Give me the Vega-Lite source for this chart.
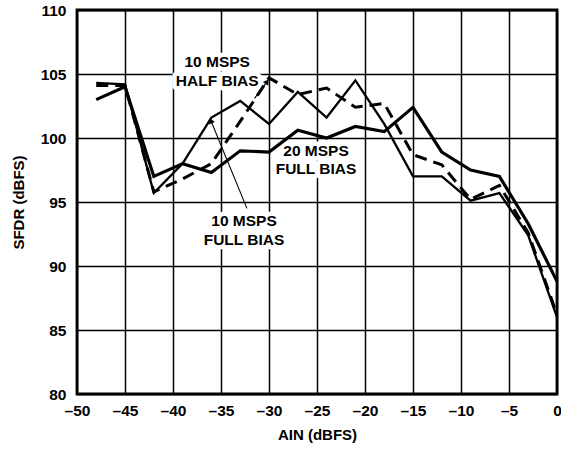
{
  "$schema": "https://vega.github.io/schema/vega-lite/v6.json",
  "width": 480,
  "height": 384,
  "autosize": {"type": "none"},
  "padding": {"left": 77, "top": 10, "right": 4, "bottom": 61},
  "background": "white",
  "datasets": {
    "series": [
      {"series": "10F", "x": -48, "y": 104.3}, {"series": "10F", "x": -45, "y": 104.2}, {"series": "10F", "x": -42, "y": 95.7},
      {"series": "10F", "x": -39, "y": 98.0}, {"series": "10F", "x": -36, "y": 101.6}, {"series": "10F", "x": -33, "y": 102.9},
      {"series": "10F", "x": -30, "y": 101.1}, {"series": "10F", "x": -27, "y": 103.6}, {"series": "10F", "x": -24, "y": 101.6},
      {"series": "10F", "x": -21, "y": 104.5}, {"series": "10F", "x": -18, "y": 101.1}, {"series": "10F", "x": -15, "y": 97.0},
      {"series": "10F", "x": -12, "y": 97.0}, {"series": "10F", "x": -9, "y": 95.1}, {"series": "10F", "x": -6, "y": 95.7},
      {"series": "10F", "x": -3, "y": 92.4}, {"series": "10F", "x": 0, "y": 86.0},
      {"series": "10H", "x": -48, "y": 104.1}, {"series": "10H", "x": -45, "y": 104.1}, {"series": "10H", "x": -42, "y": 95.8},
      {"series": "10H", "x": -39, "y": 96.8}, {"series": "10H", "x": -36, "y": 98.0}, {"series": "10H", "x": -33, "y": 101.3},
      {"series": "10H", "x": -30, "y": 104.7}, {"series": "10H", "x": -27, "y": 103.4}, {"series": "10H", "x": -24, "y": 103.9},
      {"series": "10H", "x": -21, "y": 102.4}, {"series": "10H", "x": -18, "y": 102.7}, {"series": "10H", "x": -15, "y": 98.7},
      {"series": "10H", "x": -12, "y": 97.9}, {"series": "10H", "x": -9, "y": 95.2}, {"series": "10H", "x": -6, "y": 96.3},
      {"series": "10H", "x": -3, "y": 92.6}, {"series": "10H", "x": 0, "y": 86.2},
      {"series": "20F", "x": -48, "y": 103.0}, {"series": "20F", "x": -45, "y": 104.0}, {"series": "20F", "x": -42, "y": 97.0},
      {"series": "20F", "x": -39, "y": 98.0}, {"series": "20F", "x": -36, "y": 97.3}, {"series": "20F", "x": -33, "y": 99.0},
      {"series": "20F", "x": -30, "y": 98.9}, {"series": "20F", "x": -27, "y": 100.6}, {"series": "20F", "x": -24, "y": 100.0},
      {"series": "20F", "x": -21, "y": 100.9}, {"series": "20F", "x": -18, "y": 100.5}, {"series": "20F", "x": -15, "y": 102.4},
      {"series": "20F", "x": -12, "y": 98.9}, {"series": "20F", "x": -9, "y": 97.5}, {"series": "20F", "x": -6, "y": 97.0},
      {"series": "20F", "x": -3, "y": 93.3}, {"series": "20F", "x": 0, "y": 88.8}
    ],
    "labels": [
      {"text": "10 MSPS", "x": -35.4, "y": 105.9},
      {"text": "HALF BIAS", "x": -35.4, "y": 104.45},
      {"text": "20 MSPS", "x": -25.1, "y": 98.95},
      {"text": "FULL BIAS", "x": -25.1, "y": 97.55},
      {"text": "10 MSPS", "x": -32.6, "y": 93.5},
      {"text": "FULL BIAS", "x": -32.6, "y": 92.05}
    ],
    "arrows": [
      {"id": "a1", "x": -32.3, "y": 94.5, "x2": -36.05, "y2": 101.35},
      {"id": "a2", "x": -31.5, "y": 103.1, "x2": -30.2, "y2": 104.4}
    ]
  },
  "config": {
    "font": "Liberation Sans",
    "view": {"stroke": "black", "strokeWidth": 2.8},
    "axis": {
      "domain": false,
      "ticks": false,
      "grid": true,
      "gridColor": "black",
      "gridWidth": 1.5,
      "gridOpacity": 1,
      "labelFont": "Liberation Sans",
      "labelFontWeight": "bold",
      "labelFontSize": 15.5,
      "labelColor": "black",
      "titleFont": "Liberation Sans",
      "titleFontWeight": "bold",
      "titleFontSize": 15,
      "titleColor": "black"
    }
  },
  "encoding": {
    "x": {
      "field": "x",
      "type": "quantitative",
      "scale": {"domain": [-50, 0], "nice": false, "zero": false},
      "axis": {
        "values": [-50, -45, -40, -35, -30, -25, -20, -15, -10, -5, 0],
        "labelExpr": "datum.value < 0 ? '\u2013' + abs(datum.value) : '' + datum.value",
        "labelPadding": 9,
        "labelFlush": false,
        "title": "AIN (dBFS)",
        "titlePadding": 9
      }
    },
    "y": {
      "field": "y",
      "type": "quantitative",
      "scale": {"domain": [80, 110], "nice": false, "zero": false},
      "axis": {
        "values": [80, 85, 90, 95, 100, 105, 110],
        "labelPadding": 11,
        "labelFlush": false,
        "title": "SFDR (dBFS)",
        "titlePadding": 14
      }
    }
  },
  "layer": [
    {
      "data": {"name": "labels"},
      "mark": {"type": "text", "fontSize": 15.5, "fontWeight": "bold", "font": "Liberation Sans", "fill": "white", "stroke": "white", "strokeWidth": 9, "strokeJoin": "round", "baseline": "middle", "align": "center"},
      "encoding": {"text": {"field": "text"}}
    },
    {
      "data": {"name": "series"},
      "transform": [{"filter": "datum.series === '10F'"}],
      "mark": {"type": "line", "color": "black", "strokeWidth": 2.3, "strokeJoin": "miter"},
      "encoding": {"order": {"field": "x"}}
    },
    {
      "data": {"name": "series"},
      "transform": [{"filter": "datum.series === '10H'"}],
      "mark": {"type": "line", "color": "black", "strokeWidth": 3, "strokeDash": [12, 7]},
      "encoding": {"order": {"field": "x"}}
    },
    {
      "data": {"name": "series"},
      "transform": [{"filter": "datum.series === '20F'"}],
      "mark": {"type": "line", "color": "black", "strokeWidth": 3.2, "strokeJoin": "miter"},
      "encoding": {"order": {"field": "x"}}
    },
    {
      "data": {"name": "labels"},
      "mark": {"type": "text", "fontSize": 15.5, "fontWeight": "bold", "font": "Liberation Sans", "color": "black", "baseline": "middle", "align": "center"},
      "encoding": {"text": {"field": "text"}}
    },
    {
      "data": {"name": "arrows"},
      "mark": {"type": "rule", "color": "black", "strokeWidth": 1.1},
      "encoding": {"x2": {"field": "x2"}, "y2": {"field": "y2"}}
    },
    {
      "data": {"name": "arrows"},
      "transform": [{"filter": "datum.id === 'a1'"}],
      "mark": {"type": "point", "shape": "triangle-up", "filled": true, "color": "black", "opacity": 1, "size": 40, "angle": 338},
      "encoding": {"x": {"field": "x2", "type": "quantitative"}, "y": {"field": "y2", "type": "quantitative"}}
    },
    {
      "data": {"name": "arrows"},
      "transform": [{"filter": "datum.id === 'a2'"}],
      "mark": {"type": "point", "shape": "triangle-up", "filled": true, "color": "black", "opacity": 1, "size": 40, "angle": 35},
      "encoding": {"x": {"field": "x2", "type": "quantitative"}, "y": {"field": "y2", "type": "quantitative"}}
    }
  ]
}
